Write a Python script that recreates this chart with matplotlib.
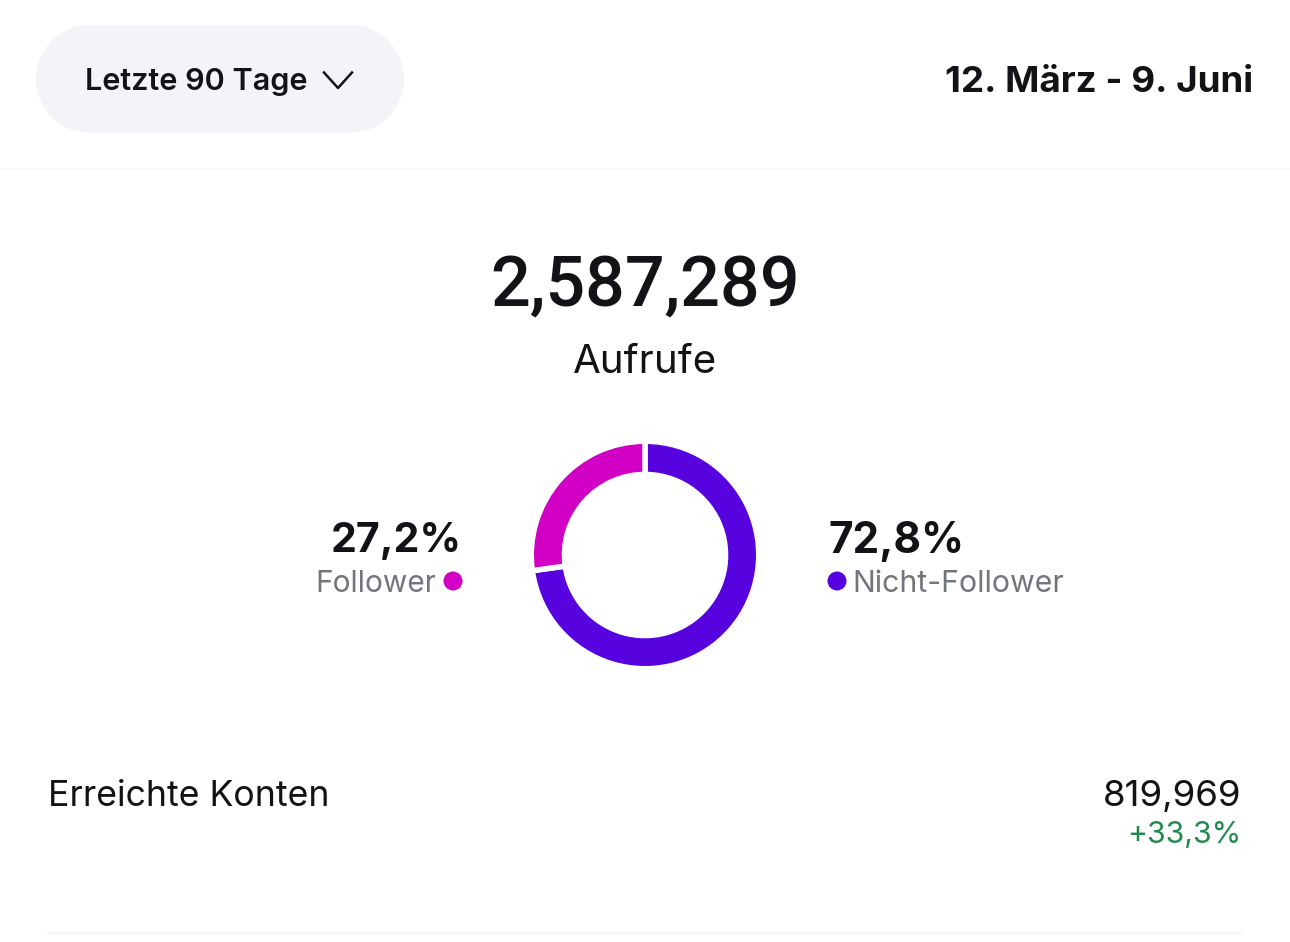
import matplotlib
matplotlib.use("Agg")
import matplotlib.pyplot as plt
from matplotlib.patches import Circle

W = 1290
H = 942

shares = [72.8, 27.2]
slice_colors = ["#5603df", "#d100c4"]
total_label = "2,587,289"
metric_label = "Aufrufe"
share_labels = ["72,8%", "27,2%"]
series_labels = ["Nicht-Follower", "Follower"]
period_label = "Letzte 90 Tage"
date_label = "12. März - 9. Juni"
reach_label = "Erreichte Konten"
reach_value = "819,969"
reach_change = "+33,3%"

plt.rcParams["font.family"] = ["Inter", "DejaVu Sans"]

fig = plt.figure(figsize=(W / 100, H / 100), dpi=100)
ax = fig.add_axes([0, 0, 1, 1])
ax.set_xlim(0, W)
ax.set_ylim(H, 0)
ax.axis("off")

# header pill is just a fat line with round caps, 108px high
ax.plot([90, 350], [79, 79], color="#f3f4f8", lw=108 * 0.72, solid_capstyle="round")
ax.plot([324, 338, 352], [72.5, 88, 72.5], color="#111316", lw=1.8)
ax.plot([0, W], [168.5, 168.5], color="#f8f8f9", lw=1.5)
ax.plot([48, 1242], [932.5, 932.5], color="#f6f6f7", lw=1.5)

ax.text(85, 82.5, period_label, fontsize=22, fontweight="semibold", color="#111316",
        va="center", ha="left")
ax.text(1253, 83, date_label, fontsize=26.5, fontweight="bold", color="#111316",
        va="center", ha="right")
ax.text(645.5, 286.5, total_label, fontsize=50.5, fontweight="medium", color="#111316",
        va="center", ha="center", family=["Roboto", "DejaVu Sans"])
ax.text(645, 362.5, metric_label, fontsize=29, color="#111316", va="center", ha="center")

# donut, axes grown a bit since the white edge eats half its width off the ring
edge_px = 5.5
outer_r = 111 + edge_px / 2
ring_w = (27.7 + edge_px) / outer_r
donut_ax = fig.add_axes([(645 - outer_r) / W, 1 - (555 + outer_r) / H,
                         2 * outer_r / W, 2 * outer_r / H])
donut_ax.pie(shares, colors=slice_colors, startangle=90, counterclock=False,
             radius=1, wedgeprops=dict(width=ring_w, edgecolor="white",
                                       linewidth=edge_px * 0.72))
donut_ax.set_xlim(-1, 1)
donut_ax.set_ylim(-1, 1)

# labels either side of the donut
ax.text(462, 541, share_labels[1], fontsize=29.6, fontweight="bold", color="#111316",
        va="center", ha="right")
ax.text(436, 584.5, series_labels[1], fontsize=21.5, color="#73757c", va="center", ha="right")
ax.add_patch(Circle((453, 581), 9.5, fc=slice_colors[1], ec="none"))

ax.text(829, 541, share_labels[0], fontsize=30.5, fontweight="bold", color="#111316",
        va="center", ha="left")
ax.text(852, 584.5, series_labels[0], fontsize=21.8, color="#73757c", va="center", ha="left")
ax.add_patch(Circle((837, 581), 9.5, fc=slice_colors[0], ec="none"))

# reach row
ax.text(48, 796.5, reach_label, fontsize=25.7, color="#111316", va="center", ha="left")
ax.text(1241.5, 796.5, reach_value, fontsize=26.4, color="#111316", va="center", ha="right")
ax.text(1241.5, 835.5, reach_change, fontsize=21.8, color="#1f8a4c", va="center", ha="right")

fig.savefig("out.png", dpi=100)
